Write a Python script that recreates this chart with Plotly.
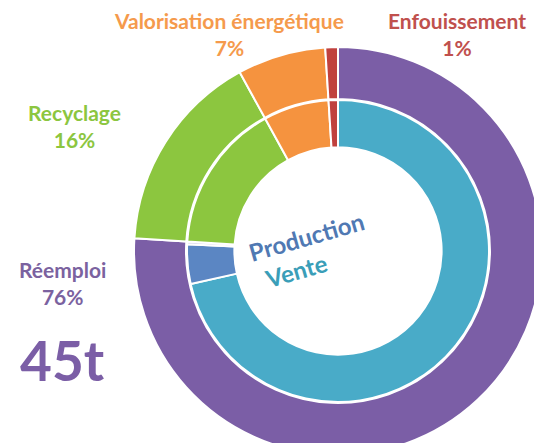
import plotly.graph_objects as go

# Data
outer_labels = ["Réemploi", "Recyclage", "Valorisation énergétique", "Enfouissement"]
outer_values = [76, 16, 7, 1]
outer_colors = ["#7b5ea6", "#8cc63f", "#f5933f", "#c0413e"]

inner_labels = ["Vente", "Production", "Autre", "Recyclage", "Valorisation énergétique", "Enfouissement"]
inner_values = [71.5, 4.2, 0.3, 16, 7, 1]
inner_colors = ["#49abc8", "#5b86c3", "#d3d0e8", "#8cc63f", "#f5933f", "#c0413e"]

label_texts = ["Valorisation énergétique<br>7%", "Enfouissement<br>1%", "Recyclage<br>16%", "Réemploi<br>76%"]
label_colors = ["#f59a4c", "#c0504d", "#8cc63f", "#7b629f"]
total_text = "45t"

W, H = 550, 460
cx, cy = 338, 251
R_out, R_mid, R_in = 204, 153, 105

def dom(r):
    return dict(x=[(cx - r) / W, (cx + r) / W], y=[1 - (cy + r) / H, 1 - (cy - r) / H])

fig = go.Figure()
fig.add_trace(go.Pie(
    labels=outer_labels, values=outer_values, sort=False, direction="clockwise", rotation=0,
    hole=(R_mid - 1) / R_out, domain=dom(R_out), textinfo="none", hoverinfo="label+percent",
    marker=dict(colors=outer_colors, line=dict(color="white", width=2)), showlegend=False,
))
fig.add_trace(go.Pie(
    labels=inner_labels, values=inner_values, sort=False, direction="clockwise", rotation=0,
    hole=R_in / R_mid, domain=dom(R_mid - 2), textinfo="none", hoverinfo="label+percent",
    marker=dict(colors=inner_colors, line=dict(color="white", width=2)), showlegend=False,
))

def px(x, y):
    return x / W, 1 - y / H

pos = [(229, 34), (457, 34), (74, 126), (62, 283)]
for t, c, (x, y) in zip(label_texts, label_colors, pos):
    ax, ay = px(x, y)
    fig.add_annotation(x=ax, y=ay, xref="paper", yref="paper", text=f"<b>{t}</b>", showarrow=False,
                       font=dict(family="Lato", size=21, color=c), xanchor="center", yanchor="middle")

ax, ay = px(62, 360)
fig.add_annotation(x=ax, y=ay, xref="paper", yref="paper", text=f"<b>{total_text}</b>", showarrow=False,
                   font=dict(family="Lato", size=55, color="#7b5ea6"), xanchor="center", yanchor="middle")

ax, ay = px(306, 236)
fig.add_annotation(x=ax, y=ay, xref="paper", yref="paper", text="<b>Production</b>", showarrow=False,
                   textangle=-16, font=dict(family="Lato", size=24, color="#5079b3"),
                   xanchor="center", yanchor="middle")
ax, ay = px(296, 270)
fig.add_annotation(x=ax, y=ay, xref="paper", yref="paper", text="<b>Vente</b>", showarrow=False,
                   textangle=-16, font=dict(family="Lato", size=24, color="#3a9eb8"),
                   xanchor="center", yanchor="middle")

fig.update_layout(width=W, height=H, margin=dict(l=0, r=0, t=0, b=0),
                  paper_bgcolor="white", plot_bgcolor="white")

fig.write_html("out.html", config={"displayModeBar": False},
               post_script="document.body.style.margin='0';document.body.style.overflow='hidden';document.documentElement.style.overflow='hidden';")
